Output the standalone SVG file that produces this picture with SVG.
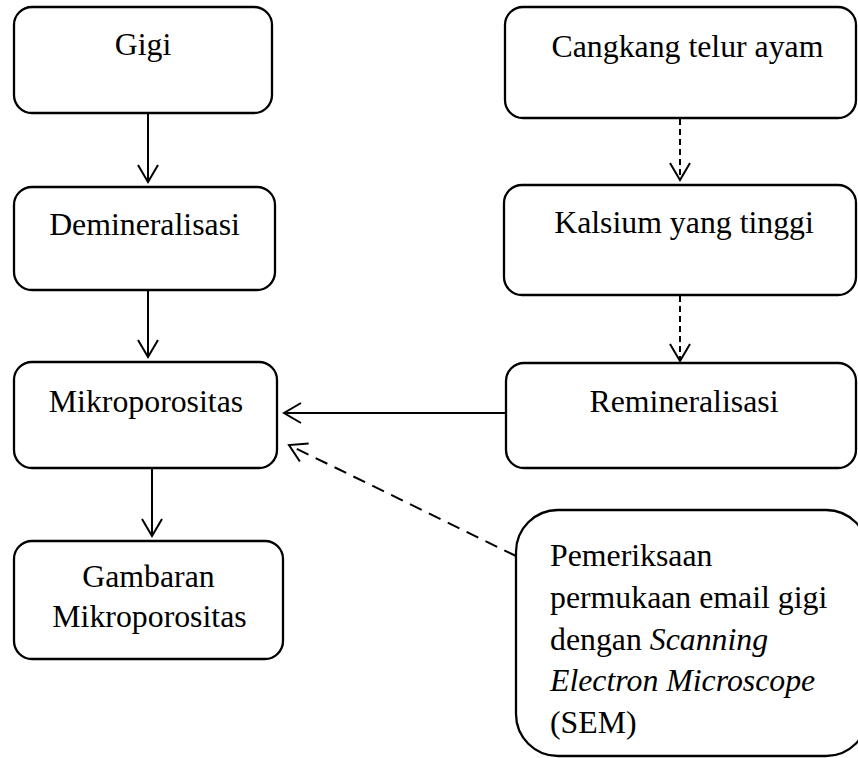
<svg xmlns="http://www.w3.org/2000/svg" width="858" height="758" viewBox="0 0 858 758">
<style>
.box{fill:#fff;stroke:#000;stroke-width:2.3}
.t{font-family:"Liberation Serif","Times New Roman",serif;font-size:31.8px;fill:#000}
.c{text-anchor:middle}
.ln{fill:none;stroke:#000;stroke-width:2}
.d1{stroke-dasharray:6 4}
.d2{stroke-dasharray:13 8}
</style>
<defs>
<marker id="ah" markerUnits="userSpaceOnUse" markerWidth="22" markerHeight="24" viewBox="0 0 22 24" refX="19" refY="12" orient="auto">
<path d="M2,2 L19,12 L2,22" fill="none" stroke="#000" stroke-width="2"/>
</marker>
</defs>
<rect width="858" height="758" fill="#fff"/>
<g id="connectors">
<line class="ln" x1="148" y1="114" x2="148" y2="182" marker-end="url(#ah)"/>
<line class="ln" x1="148" y1="291" x2="148" y2="357" marker-end="url(#ah)"/>
<line class="ln" x1="152" y1="469" x2="152" y2="536" marker-end="url(#ah)"/>
<line class="ln d1" x1="680" y1="119" x2="680" y2="180" marker-end="url(#ah)"/>
<line class="ln d1" x1="680" y1="296" x2="680" y2="361" marker-end="url(#ah)"/>
<line class="ln" x1="505" y1="413" x2="284" y2="413" marker-end="url(#ah)"/>
<line class="ln d2" x1="516" y1="556" x2="289" y2="445" marker-end="url(#ah)"/>
</g>
<g id="gigi">
<rect class="box" x="14" y="7" width="258" height="106" rx="18"/>
<text class="t c" x="143" y="55">Gigi</text>
</g>
<g id="demineralisasi">
<rect class="box" x="14" y="187" width="261" height="103" rx="18"/>
<text class="t c" x="144.5" y="235">Demineralisasi</text>
</g>
<g id="mikroporositas">
<rect class="box" x="14" y="362" width="263" height="106" rx="18"/>
<text class="t c" x="146" y="412">Mikroporositas</text>
</g>
<g id="gambaran">
<rect class="box" x="14" y="541" width="269" height="118" rx="18"/>
<text class="t c" x="148.5" y="587">Gambaran</text>
<text class="t c" x="149.5" y="627">Mikroporositas</text>
</g>
<g id="cangkang">
<rect class="box" x="505" y="7" width="351" height="111" rx="18"/>
<text class="t c" x="687.5" y="57">Cangkang telur ayam</text>
</g>
<g id="kalsium">
<rect class="box" x="504" y="185" width="352" height="110" rx="18"/>
<text class="t c" x="684" y="233">Kalsium yang tinggi</text>
</g>
<g id="remineralisasi">
<rect class="box" x="506" y="363" width="350" height="105" rx="18"/>
<text class="t c" x="684" y="412">Remineralisasi</text>
</g>
<g id="sem">
<rect class="box" x="516" y="510" width="352" height="246" rx="42"/>
<text class="t" x="550" y="566">Pemeriksaan</text>
<text class="t" x="550" y="608">permukaan email gigi</text>
<text class="t" x="550" y="650">dengan <tspan font-style="italic">Scanning</tspan></text>
<text class="t" x="550" y="691" font-style="italic">Electron Microscope</text>
<text class="t" x="550" y="733">(SEM)</text>
</g>
</svg>
